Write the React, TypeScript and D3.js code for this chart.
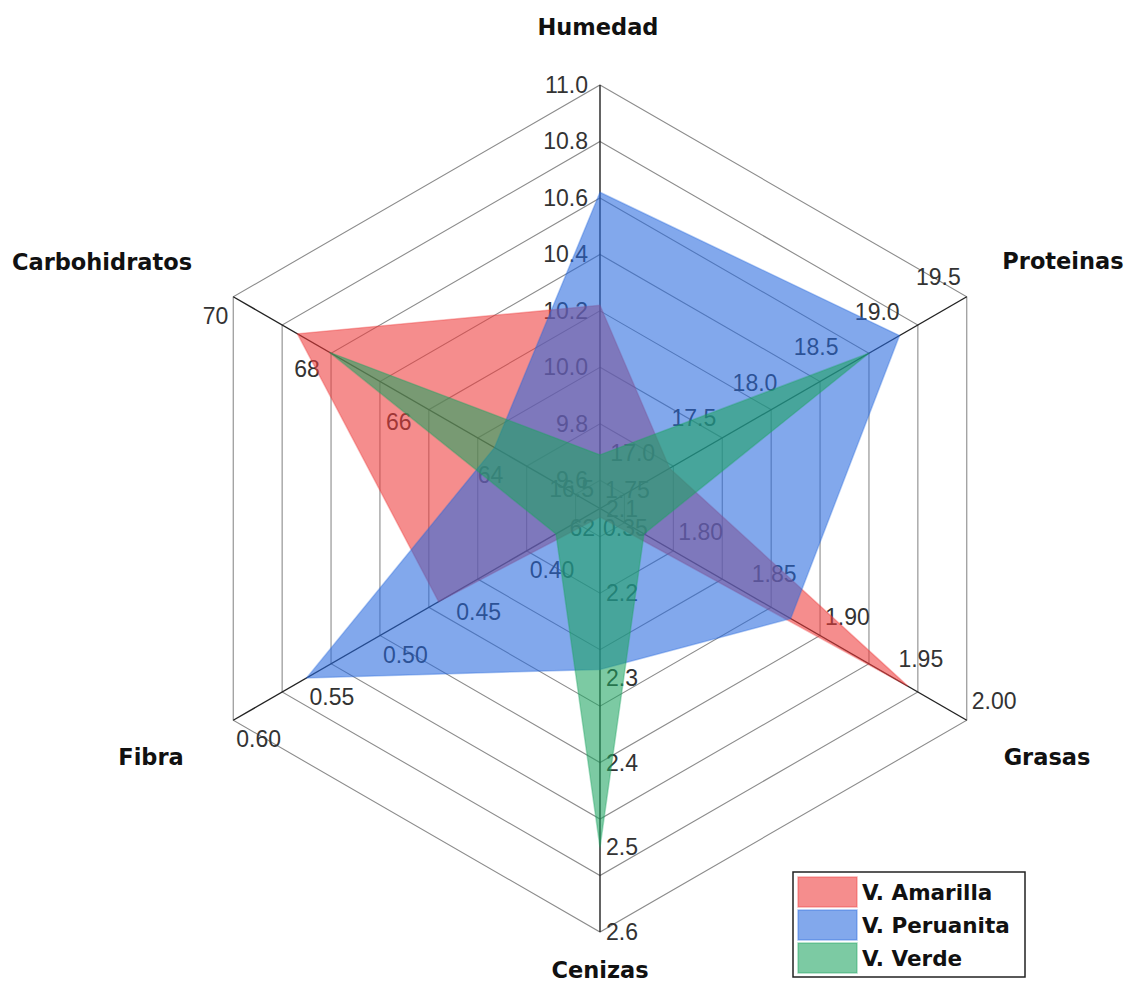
import React from "react";
import * as d3 from "d3";

const axes = ["Humedad", "Proteinas", "Grasas", "Cenizas", "Fibra", "Carbohidratos"];
const axisAngles = [90, 30, -30, -90, 210, 150];
const axisMin = [9.5, 16.5, 1.75, 2.1, 0.35, 62];
const axisMax = [11.0, 19.5, 2.0, 2.6, 0.6, 70];

const humedadTicks = ["9.6", "9.8", "10.0", "10.2", "10.4", "10.6", "10.8", "11.0"];
const proteinasTicks = ["16.5", "17.0", "17.5", "18.0", "18.5", "19.0", "19.5"];
const grasasTicks = ["1.75", "1.80", "1.85", "1.90", "1.95", "2.00"];
const cenizasTicks = ["2.1", "2.2", "2.3", "2.4", "2.5", "2.6"];
const fibraTicks = ["0.35", "0.40", "0.45", "0.50", "0.55", "0.60"];
const carboTicks = ["62", "64", "66", "68", "70"];
const allTicks = [humedadTicks, proteinasTicks, grasasTicks, cenizasTicks, fibraTicks, carboTicks];

const seriesNames = ["V. Amarilla", "V. Peruanita", "V. Verde"];
const amarilla = [10.22, 17.07, 1.96, 2.11, 0.46, 68.6];
const peruanita = [10.62, 18.95, 1.88, 2.29, 0.55, 64.3];
const verde = [9.69, 18.7, 1.78, 2.5, 0.38, 67.9];
const seriesValues = [amarilla, peruanita, verde];
const seriesColors = ["#ee3b3b", "#2769de", "#1ea361"];

const W = 1132;
const H = 1006;
const cx = 600;
const cy = 508.5;
const R = 423.5;

// label offsets per axis: [dx, dy, anchor]
const labelOffsets: [number, number, string][] = [
  [-12, 0, "end"],
  [-6, -20, "end"],
  [5, -19, "start"],
  [6, 0, "start"],
  [3, 19, "start"],
  [-5, 19, "end"],
];

const titlePos: [number, number][] = [
  [598, 27],
  [1063, 261],
  [1047, 757],
  [600, 970],
  [151, 757],
  [102, 262],
];

export default function App() {
  const scales = axes.map((_, i) =>
    d3.scaleLinear().domain([axisMin[i], axisMax[i]]).range([0, R])
  );
  const pt = (i: number, r: number): [number, number] => {
    const a = (axisAngles[i] * Math.PI) / 180;
    return [cx + r * Math.cos(a), cy - r * Math.sin(a)];
  };
  const ringRadii = humedadTicks.map((t) => scales[0](+t));
  const line = d3.line<[number, number]>().curve(d3.curveLinearClosed);

  return (
    <svg
      width={W}
      height={H}
      style={{ position: "absolute", left: 0, top: 0, background: "#fff" }}
    >
      {/* grid rings */}
      {ringRadii.map((r, k) => (
        <path
          key={"ring" + k}
          d={line(axes.map((_, i) => pt(i, r))) || ""}
          fill="none"
          stroke="#8c8c8c"
          strokeWidth={1.1}
        />
      ))}
      {/* axes */}
      {axes.map((_, i) => {
        const [x, y] = pt(i, R);
        return (
          <line
            key={"ax" + i}
            x1={cx}
            y1={cy}
            x2={x}
            y2={y}
            stroke="#222"
            strokeWidth={1.4}
          />
        );
      })}
      {/* tick labels */}
      {allTicks.map((ticks, i) =>
        ticks.map((t) => {
          const [x, y] = pt(i, scales[i](+t));
          const [dx, dy, anchor] = labelOffsets[i];
          return (
            <text
              key={"t" + i + t}
              x={x + dx}
              y={y + dy}
              textAnchor={anchor as any}
              dominantBaseline="central"
              fontFamily="'Liberation Sans', Arial, sans-serif"
              fontSize={23}
              fill="#333"
            >
              {t}
            </text>
          );
        })
      )}
      {/* series */}
      {seriesValues.map((vals, s) => (
        <path
          key={"s" + s}
          d={line(vals.map((v, i) => pt(i, scales[i](v)))) || ""}
          fill={seriesColors[s]}
          fillOpacity={0.58}
          stroke={seriesColors[s]}
          strokeOpacity={0.35}
          strokeWidth={1.5}
        />
      ))}
      {/* axis titles */}
      {axes.map((a, i) => (
        <text
          key={"title" + i}
          x={titlePos[i][0]}
          y={titlePos[i][1]}
          textAnchor="middle"
          dominantBaseline="central"
          fontFamily="'DejaVu Sans', Verdana, sans-serif"
          fontWeight="bold"
          fontSize={22.5}
          fill="#111"
        >
          {a}
        </text>
      ))}
      {/* legend */}
      <rect x={793} y={872} width={232} height={105} fill="#fff" stroke="#222" strokeWidth={1.5} />
      {seriesNames.map((n, s) => (
        <g key={"lg" + s}>
          <rect
            x={798}
            y={877 + s * 33}
            width={59}
            height={30}
            fill={seriesColors[s]}
            fillOpacity={0.58}
            stroke={seriesColors[s]}
            strokeOpacity={0.4}
            strokeWidth={1.5}
          />
          <text
            x={862}
            y={892 + s * 33}
            dominantBaseline="central"
            fontFamily="'DejaVu Sans', Verdana, sans-serif"
            fontWeight="bold"
            fontSize={21.5}
            fill="#111"
          >
            {n}
          </text>
        </g>
      ))}
    </svg>
  );
}
